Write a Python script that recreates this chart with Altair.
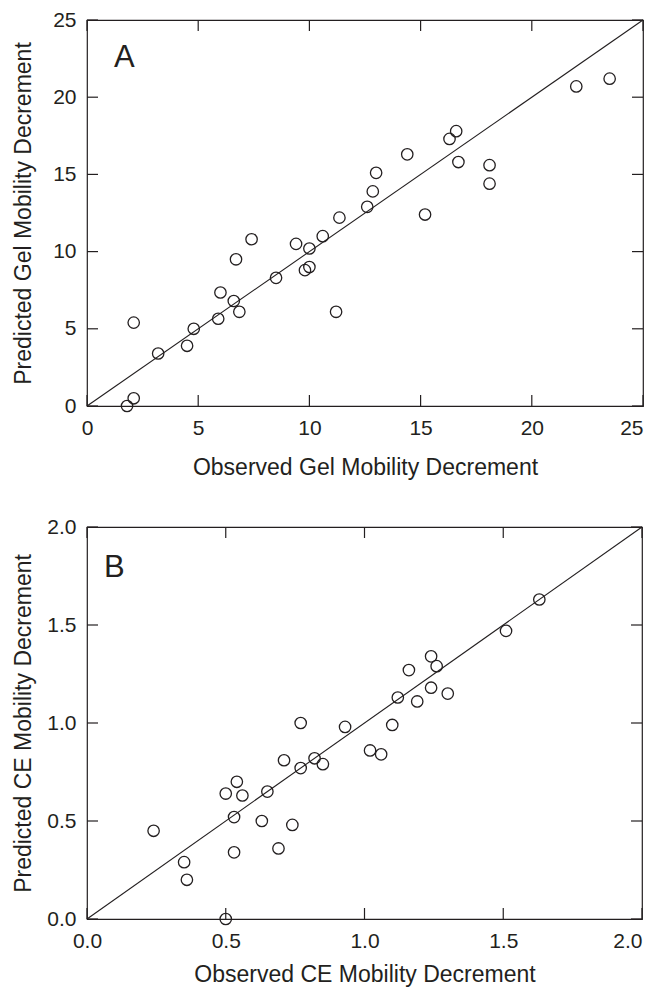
import altair as alt
import pandas as pd

# ---- data ----
gel_obs = [2.1, 2.1, 1.8, 3.2, 4.5, 4.8, 5.9, 6.0, 6.6, 6.85, 6.7, 7.4, 8.5, 9.4, 10.0, 10.0,
           9.8, 10.6, 11.35, 11.2, 12.6, 12.85, 13.0, 14.4, 15.2, 16.3, 16.6, 16.7, 18.1, 18.1,
           22.0, 23.5]
gel_pred = [5.4, 0.5, 0.0, 3.4, 3.9, 5.0, 5.65, 7.35, 6.8, 6.1, 9.5, 10.8, 8.3, 10.5, 10.2, 9.0,
            8.8, 11.0, 12.2, 6.1, 12.9, 13.9, 15.1, 16.3, 12.4, 17.3, 17.8, 15.8, 15.6, 14.4,
            20.7, 21.2]

ce_obs = [0.24, 0.35, 0.36, 0.50, 0.50, 0.54, 0.56, 0.53, 0.53, 0.63, 0.65, 0.69, 0.71, 0.74,
          0.77, 0.77, 0.82, 0.85, 0.93, 1.02, 1.06, 1.10, 1.12, 1.16, 1.19, 1.24, 1.26, 1.24,
          1.30, 1.51, 1.63]
ce_pred = [0.45, 0.29, 0.20, 0.0, 0.64, 0.70, 0.63, 0.52, 0.34, 0.50, 0.65, 0.36, 0.81, 0.48,
           1.00, 0.77, 0.82, 0.79, 0.98, 0.86, 0.84, 0.99, 1.13, 1.27, 1.11, 1.34, 1.29, 1.18,
           1.15, 1.47, 1.63]

gel_ticks = [0, 5, 10, 15, 20, 25]
ce_ticks = [0.0, 0.5, 1.0, 1.5, 2.0]

INK = "#231f20"
FONT = "Liberation Sans"
TICK = 11


def panel(obs, pred, ticks, fmt, xtitle, ytitle, letter, W, H, lx, ly, xtp):
    domain = [ticks[0], ticks[-1]]
    pts = pd.DataFrame({"obs": obs, "pred": pred})
    tk = pd.DataFrame({"obs": ticks, "pred": ticks})
    diag = pd.DataFrame({"obs": domain, "pred": domain})
    xs = alt.Scale(domain=domain, nice=False, zero=False)
    ys = alt.Scale(domain=domain, nice=False, zero=False)
    common = dict(values=ticks, format=fmt, ticks=False, domain=False, grid=False,
                  labelFontSize=21, titleFontSize=23, labelColor=INK, titleColor=INK,
                  labelFont=FONT, titleFont=FONT, titleFontWeight="normal",
                  labelFlush=False, labelOverlap=False)
    last_right = {"condition": {"test": f"datum.value >= {ticks[-1]}", "value": "right"},
                  "value": "center"}
    xaxis = alt.Axis(title=xtitle, labelPadding=11, titlePadding=xtp,
                     labelAlign=last_right, **common)
    yaxis = alt.Axis(title=ytitle, labelPadding=11, titlePadding=11,
                     minExtent=41, maxExtent=41, **common)
    X = alt.X("obs:Q", scale=xs, axis=xaxis)
    Y = alt.Y("pred:Q", scale=ys, axis=yaxis)

    points = alt.Chart(pts).mark_point(shape="circle", filled=False, color=INK,
                                       size=130, strokeWidth=1.3, opacity=1).encode(x=X, y=Y)
    line = alt.Chart(diag).mark_line(color=INK, strokeWidth=1.1).encode(x=X, y=Y)
    rule = dict(color=INK, strokeWidth=1.2)
    bottom = alt.Chart(tk).mark_rule(**rule).encode(x=X, y=alt.value(H), y2=alt.value(H - TICK))
    top = alt.Chart(tk).mark_rule(**rule).encode(x=X, y=alt.value(0), y2=alt.value(TICK))
    left = alt.Chart(tk).mark_rule(**rule).encode(y=Y, x=alt.value(0), x2=alt.value(TICK))
    right = alt.Chart(tk).mark_rule(**rule).encode(y=Y, x=alt.value(W), x2=alt.value(W - TICK))
    label = alt.Chart(pd.DataFrame({"label": [letter]})).mark_text(
        align="left", baseline="alphabetic", fontSize=31, font=FONT, color=INK).encode(
        text="label:N", x=alt.value(lx), y=alt.value(ly))
    return alt.layer(points, line, bottom, top, left, right, label).properties(width=W, height=H)


pa = panel(gel_obs, gel_pred, gel_ticks, "d", "Observed Gel Mobility Decrement",
           "Predicted Gel Mobility Decrement", "A", 556, 386, 27, 47, 18)
pb = panel(ce_obs, ce_pred, ce_ticks, ".1f", "Observed CE Mobility Decrement",
           "Predicted CE Mobility Decrement", "B", 555, 392, 17, 50, 12)

chart = alt.vconcat(pa, pb, spacing=121, bounds="flush").properties(
    padding={"left": 3, "top": 0, "right": 2, "bottom": 0},
    background="white",
).configure_view(stroke=INK, strokeWidth=1.2)

chart.save("out.html", embed_options={"renderer": "svg", "actions": False})
